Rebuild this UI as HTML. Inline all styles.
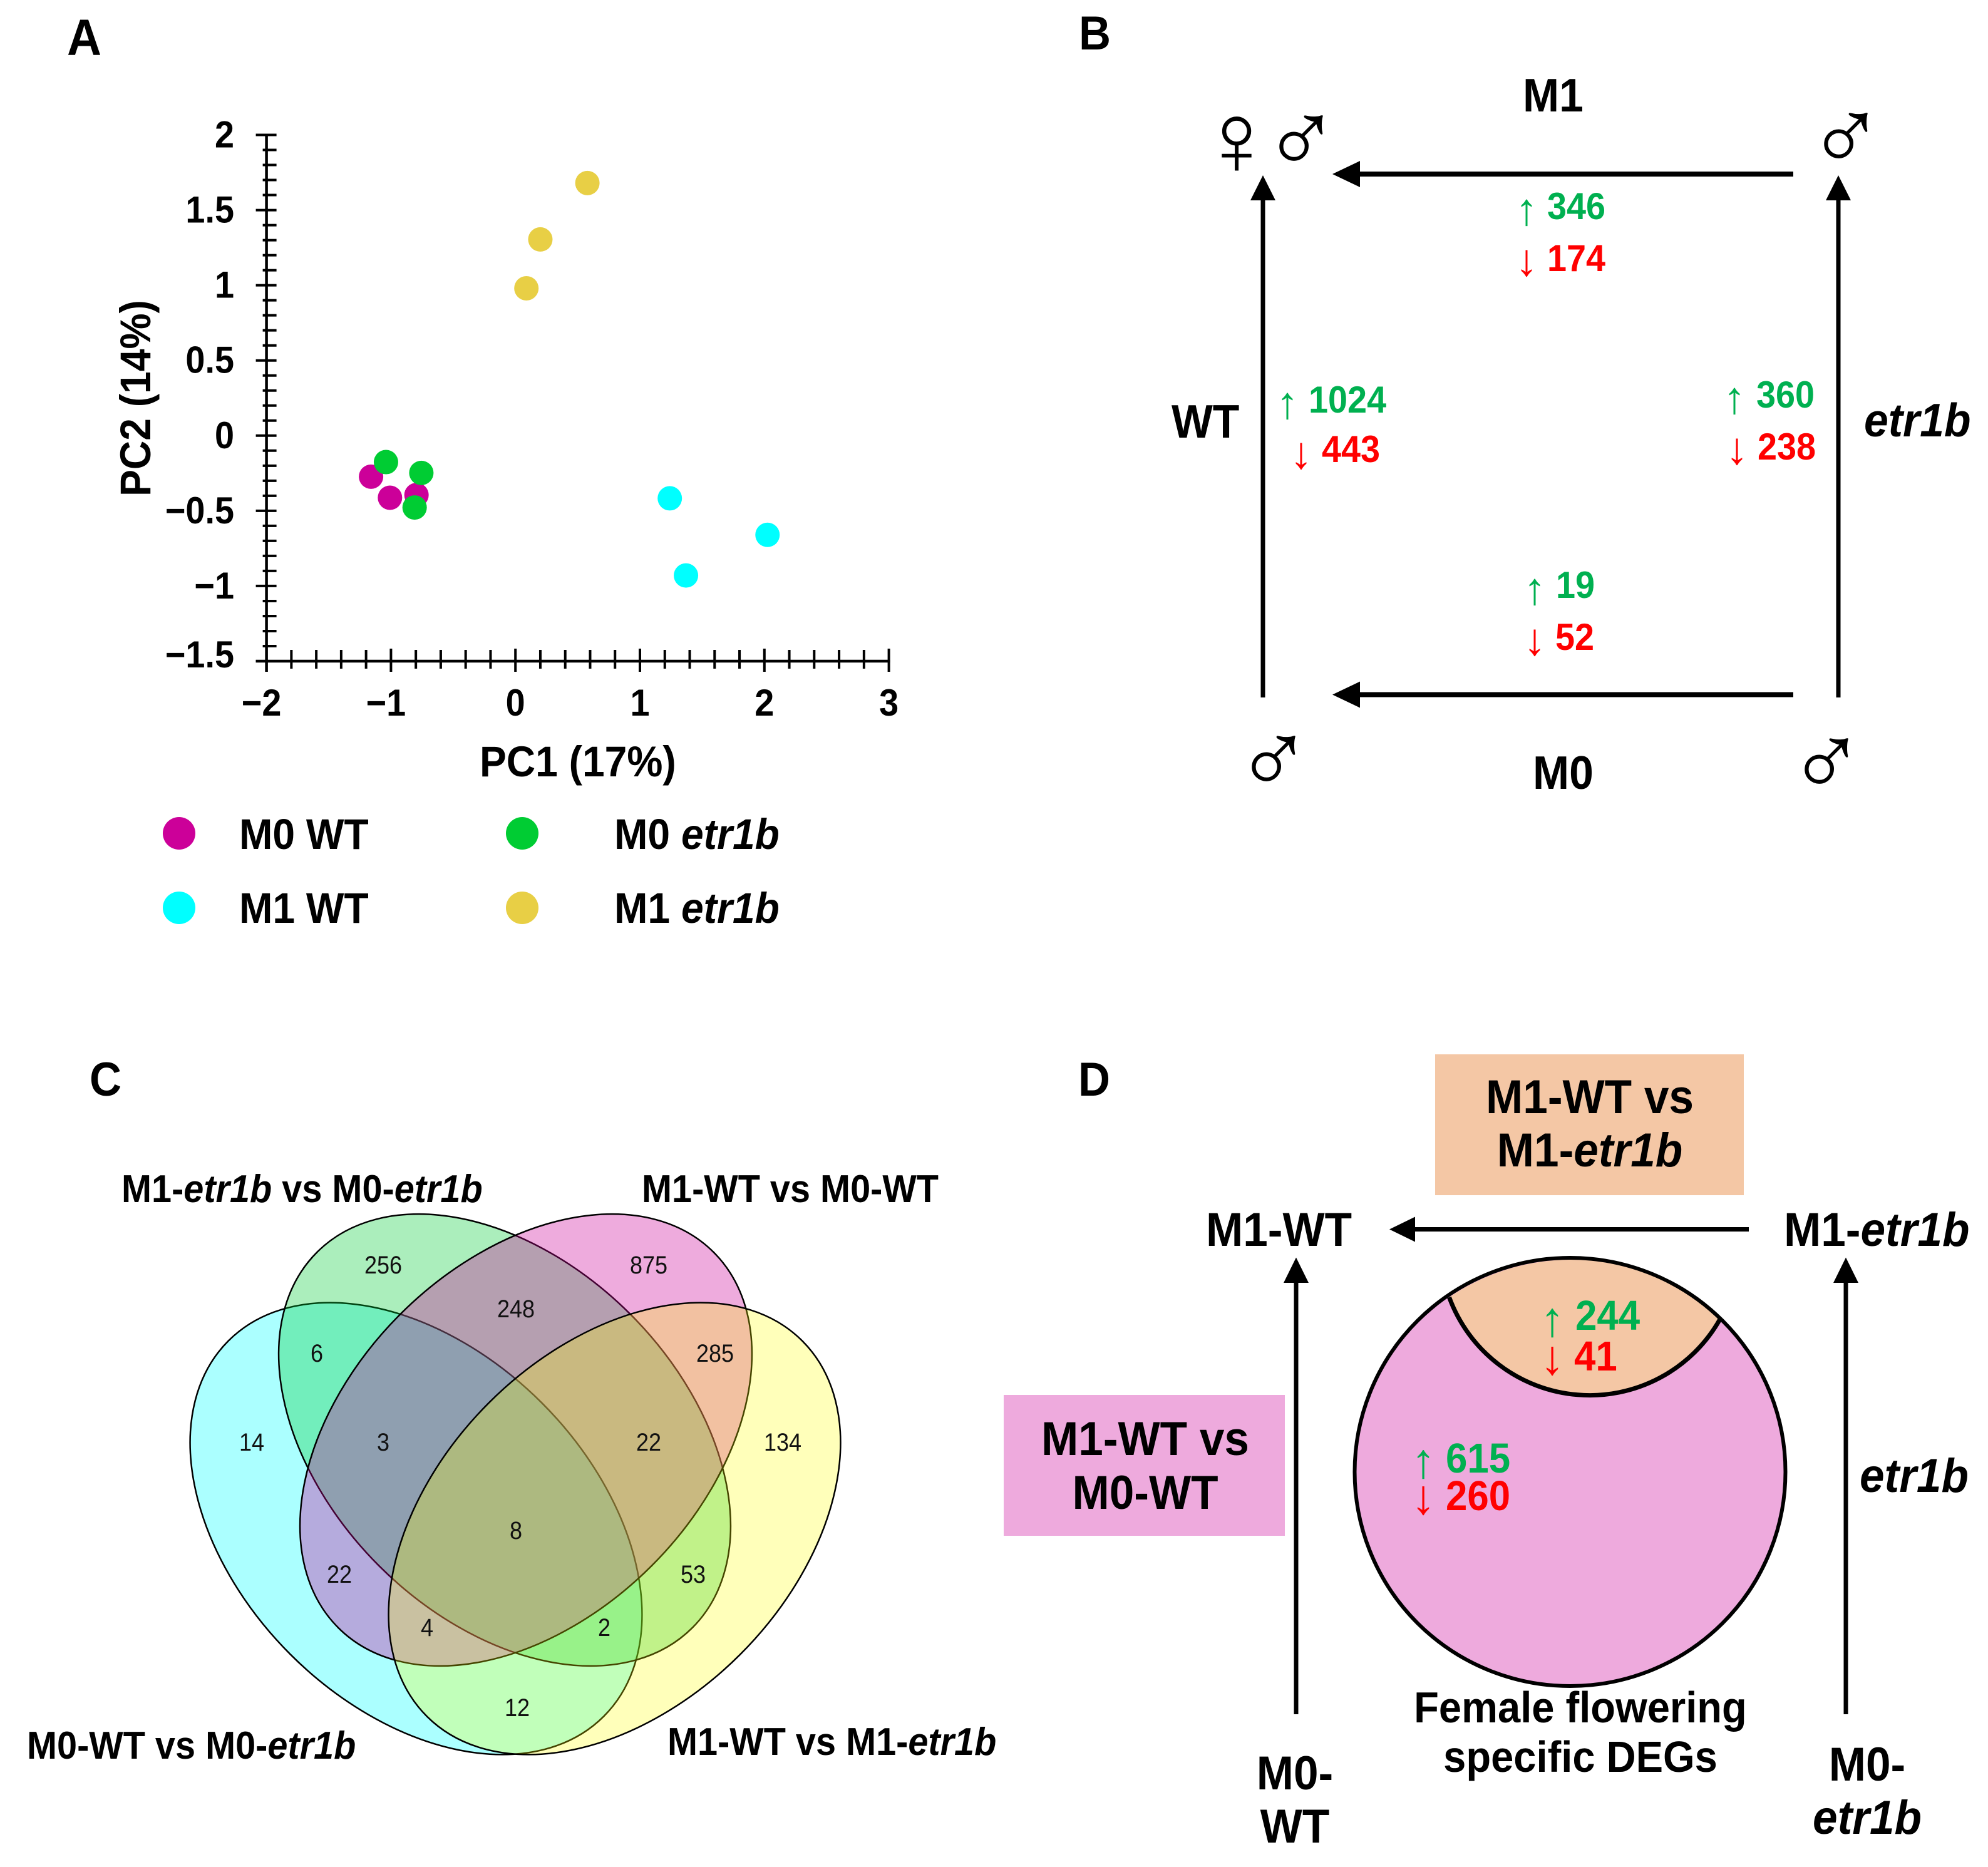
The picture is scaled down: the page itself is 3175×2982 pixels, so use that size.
<!DOCTYPE html>
<html lang="en"><head><meta charset="utf-8"><title>Figure</title>
<style>
html,body{margin:0;padding:0;background:#fff}
svg{display:block}
text{font-family:"Liberation Sans",Arial,sans-serif;font-weight:bold;fill:#000;transform-box:fill-box;transform:scaleX(.93);transform-origin:left center}
.i{font-style:italic}
.lab{font-size:75px}
.pan{font-size:76px}
.b{font-size:60px}
.d{font-size:66.500px}
.g{fill:#00b050}
.r{fill:#ff0000}
.ar{font-weight:normal;font-size:72px;text-anchor:middle;transform-origin:center;transform:scaleX(1)}
.ar2{font-size:78px}
.sym{font-weight:normal;font-size:165px;text-anchor:middle;transform:none}
.vn{font-weight:normal;font-size:40px;text-anchor:middle;fill:#111;transform:scaleX(.9);transform-origin:center}
.vl{font-size:62px}
.dl{font-size:76.500px}
.mid{text-anchor:middle;transform-origin:center}
.end{text-anchor:end;transform-origin:right center}
</style></head>
<body>
<svg xmlns="http://www.w3.org/2000/svg" width="3175" height="2982" viewBox="0 0 3175 2982">
<rect width="3175" height="2982" fill="#fff"/>

<!-- Panel A -->
<text class="pan" x="107" y="88" style="font-size:82px">A</text>
<g id="scatter"></g>
<text x="766" y="1240" font-size="69">PC1 (17%)</text>
<g transform="translate(240,636) rotate(-90)"><text class="mid" x="0" y="0" font-size="69">PC2 (14%)</text></g>
<g>
<circle cx="286" cy="1331" r="26" fill="#cc0099"/>
<text x="382" y="1356" font-size="69">M0 WT</text>
<circle cx="834" cy="1331" r="26" fill="#00cc33"/>
<text x="981" y="1356" font-size="69">M0 <tspan class="i">etr1b</tspan></text>
<circle cx="286" cy="1450" r="26" fill="#00ffff"/>
<text x="382" y="1474" font-size="69">M1 WT</text>
<circle cx="834" cy="1450" r="26" fill="#e8cf45"/>
<text x="981" y="1474" font-size="69">M1 <tspan class="i">etr1b</tspan></text>
</g>

<!-- Panel B -->
<text class="pan" x="1723" y="79">B</text>
<text class="lab" x="2432" y="178">M1</text>
<text class="lab" x="2448" y="1260">M0</text>
<text class="lab" x="1871" y="699">WT</text>
<text class="lab i" x="2977" y="697">etr1b</text>
<g fill="#000" stroke="none">
<rect x="2170" y="274" width="694" height="8"/>
<path d="M2128 278L2172 257V299Z"/>
<rect x="2170" y="1105.500" width="694" height="8"/>
<path d="M2128 1109.500L2172 1088.500V1130.500Z"/>
<rect x="2013.500" y="315" width="7" height="799"/>
<path d="M2017 280L2037 320H1997Z"/>
<rect x="2932.500" y="315" width="7" height="799"/>
<path d="M2936 280L2956 320H2916Z"/>
</g>
<text class="sym" x="1975" y="279">♀</text>
<text class="sym" x="2078" y="277">♂</text>
<text class="sym" x="2948" y="273">♂</text>
<text class="sym" x="2034" y="1268">♂</text>
<text class="sym" x="2917" y="1272">♂</text>

<text class="ar g" x="2438" y="359">↑</text>
<text class="b g" x="2471" y="350">346</text>
<text class="ar r" x="2438" y="440">↓</text>
<text class="b r" x="2471" y="433">174</text>
<text class="ar g" x="2056" y="668">↑</text>
<text class="b g" x="2090" y="659">1024</text>
<text class="ar r" x="2078" y="748">↓</text>
<text class="b r" x="2111" y="738">443</text>
<text class="ar g" x="2770" y="660">↑</text>
<text class="b g" x="2805" y="651">360</text>
<text class="ar r" x="2774" y="741">↓</text>
<text class="b r" x="2807" y="734">238</text>
<text class="ar g" x="2451" y="965">↑</text>
<text class="b g" x="2485" y="955">19</text>
<text class="ar r" x="2451" y="1046">↓</text>
<text class="b r" x="2484" y="1038">52</text>

<!-- Panel C -->
<text class="pan" x="143" y="1750">C</text>
<g>
<ellipse cx="664.500" cy="2441.500" rx="424" ry="284" transform="rotate(45 664.500 2441.500)" fill="#00ffff" fill-opacity=".33" stroke="#000" stroke-width="2.500"/>
<ellipse cx="806" cy="2300" rx="424" ry="284" transform="rotate(45 806 2300)" fill="#00cc33" fill-opacity=".33" stroke="#000" stroke-width="2.500"/>
<ellipse cx="840" cy="2300" rx="424" ry="284" transform="rotate(-45 840 2300)" fill="#cc0099" fill-opacity=".33" stroke="#000" stroke-width="2.500"/>
<ellipse cx="981.500" cy="2441.500" rx="424" ry="284" transform="rotate(-45 981.500 2441.500)" fill="#ffff00" fill-opacity=".27" stroke="#000" stroke-width="2.500"/>
<text class="vn" x="612" y="2034">256</text>
<text class="vn" x="1036" y="2034">875</text>
<text class="vn" x="824" y="2104">248</text>
<text class="vn" x="506" y="2175">6</text>
<text class="vn" x="1142" y="2175">285</text>
<text class="vn" x="402" y="2317">14</text>
<text class="vn" x="612" y="2317">3</text>
<text class="vn" x="1036" y="2317">22</text>
<text class="vn" x="1250" y="2317">134</text>
<text class="vn" x="824" y="2458">8</text>
<text class="vn" x="542" y="2528">22</text>
<text class="vn" x="1107" y="2528">53</text>
<text class="vn" x="682" y="2613">4</text>
<text class="vn" x="965" y="2613">2</text>
<text class="vn" x="826" y="2741">12</text>
</g>
<text class="vl" x="194" y="1920">M1-<tspan class="i">etr1b</tspan> vs M0-<tspan class="i">etr1b</tspan></text>
<text class="vl" x="1025" y="1920">M1-WT vs M0-WT</text>
<text class="vl" x="43" y="2809">M0-WT vs M0-<tspan class="i">etr1b</tspan></text>
<text class="vl" x="1066" y="2803">M1-WT vs M1-<tspan class="i">etr1b</tspan></text>

<!-- Panel D -->
<text class="pan" x="1722" y="1750">D</text>
<rect x="2292" y="1684" width="493" height="225" fill="#f4c7a5"/>
<text class="dl mid" x="2539" y="1778">M1-WT vs</text>
<text class="dl mid" x="2539" y="1863">M1-<tspan class="i">etr1b</tspan></text>
<rect x="1603" y="2228" width="449" height="225" fill="#eeaadd"/>
<text class="dl mid" x="1829" y="2324">M1-WT vs</text>
<text class="dl mid" x="1829" y="2410">M0-WT</text>
<text class="dl" x="1926" y="1990">M1-WT</text>
<text class="dl" x="2849" y="1990">M1-<tspan class="i">etr1b</tspan></text>
<g fill="#000">
<rect x="2255" y="1960" width="538" height="7"/>
<path d="M2219 1963.500L2260 1943.500V1983.500Z"/>
<rect x="2066.500" y="2045" width="7" height="693"/>
<path d="M2070 2008.500L2090 2049H2050Z"/>
<rect x="2944.500" y="2045" width="7" height="693"/>
<path d="M2948 2008.500L2968 2049H2928Z"/>
</g>
<ellipse cx="2507.500" cy="2351" rx="344" ry="342" fill="#eeaadd"/>
<path d="M2314.500 2072A239 239 0 0 0 2747 2107A344 342 0 0 0 2314.500 2072Z" fill="#f4c7a5"/>
<path d="M2314.500 2072A239 239 0 0 0 2747 2107" fill="none" stroke="#000" stroke-width="7"/>
<ellipse cx="2507.500" cy="2351" rx="344" ry="342" fill="none" stroke="#000" stroke-width="6"/>
<text class="ar ar2 g" x="2479" y="2134">↑</text>
<text class="d g" x="2516" y="2124">244</text>
<text class="ar ar2 r" x="2479" y="2195">↓</text>
<text class="d r" x="2514" y="2189">41</text>
<text class="ar ar2 g" x="2273" y="2360">↑</text>
<text class="d g" x="2309" y="2352">615</text>
<text class="ar ar2 r" x="2273" y="2418">↓</text>
<text class="d r" x="2309" y="2412">260</text>
<text class="mid" font-size="70" x="2524" y="2751">Female flowering</text>
<text class="mid" font-size="70" x="2524" y="2830">specific DEGs</text>
<text class="dl mid" x="2068" y="2858">M0-</text>
<text class="dl mid" x="2068" y="2943">WT</text>
<text class="dl mid" x="2982" y="2844">M0-</text>
<text class="dl mid i" x="2982" y="2929">etr1b</text>
<text class="dl i" x="2970" y="2383">etr1b</text>
</svg>
<script>
const xTicks = [-2, -1, 0, 1, 2, 3];
const yTicks = [-1.5, -1, -0.5, 0, 0.5, 1, 1.5, 2];
const m0WtX = [-1.16, -1.008, -0.795];
const m0WtY = [-0.273, -0.413, -0.395];
const m0Etr1bX = [-1.04, -0.756, -0.81];
const m0Etr1bY = [-0.176, -0.248, -0.478];
const m1WtX = [1.24, 2.025, 1.37];
const m1WtY = [-0.417, -0.66, -0.93];
const m1Etr1bX = [0.578, 0.2, 0.088];
const m1Etr1bY = [1.68, 1.305, 0.98];

(function () {
  const NS = 'http://www.w3.org/2000/svg';
  const root = document.getElementById('scatter');
  const X0 = 425.6, X1 = 1419.6, Y0 = 1056, Y1 = 215.5;
  const sx = v => X0 + (v - (-2)) / 5 * (X1 - X0);
  const sy = v => Y0 - (v - (-1.5)) / 3.5 * (Y0 - Y1);
  function line(x1, y1, x2, y2, w) {
    const l = document.createElementNS(NS, 'line');
    l.setAttribute('x1', x1); l.setAttribute('y1', y1);
    l.setAttribute('x2', x2); l.setAttribute('y2', y2);
    l.setAttribute('stroke', '#000'); l.setAttribute('stroke-width', w);
    root.appendChild(l);
    return l;
  }
  const xAxis = line(X0 - 17, Y0, X1 + 2, Y0, 4.5);
  
  
  const yAxis = line(X0, Y1 - 2, X0, Y0 + 17, 4.5);
  
  
  for (let i = 0; i <= 25; i++) {
    const v = -2 + i * 0.2, major = i % 5 === 0;
    const t = line(sx(v), major ? Y0 - 20 : Y0 - 18, sx(v), major ? Y0 + 17 : Y0 + 12, 4);
    
    
  }
  for (let i = 0; i <= 35; i++) {
    const v = -1.5 + i * 0.1, major = i % 5 === 0;
    const t = line(major ? X0 - 17 : X0 - 6, sy(v), X0 + 16, sy(v), 4);
    
    
  }
  const fmt = v => String(Math.abs(v)).replace(/^/, v < 0 ? '\u2212' : '');
  xTicks.forEach(v => {
    const t = document.createElementNS(NS, 'text');
    t.setAttribute('x', sx(v) + (v < 0 ? -8 : 0));
    t.setAttribute('y', 1143);
    t.setAttribute('class', 'mid');
    t.setAttribute('font-size', '60');
    
    
    t.textContent = fmt(v);
    root.appendChild(t);
  });
  yTicks.forEach(v => {
    const t = document.createElementNS(NS, 'text');
    t.setAttribute('x', 374);
    t.setAttribute('y', sy(v) + (v === -1.5 ? 10 : 20));
    t.setAttribute('class', 'end');
    t.setAttribute('font-size', '60');
    
    
    t.textContent = fmt(v);
    root.appendChild(t);
  });
  function series(xs, ys, color, name) {
    xs.forEach((x, i) => {
      const c = document.createElementNS(NS, 'circle');
      c.setAttribute('cx', sx(x));
      c.setAttribute('cy', sy(ys[i]));
      c.setAttribute('r', 19.500);
      c.setAttribute('fill', color);
      
      
      root.appendChild(c);
    });
  }
  series(m1Etr1bX, m1Etr1bY, '#e8cf45', 'point-m1-etr1b');
  series(m1WtX, m1WtY, '#00ffff', 'point-m1-wt');
  series(m0WtX, m0WtY, '#cc0099', 'point-m0-wt');
  series(m0Etr1bX, m0Etr1bY, '#00cc33', 'point-m0-etr1b');
})();
</script>
</body></html>
